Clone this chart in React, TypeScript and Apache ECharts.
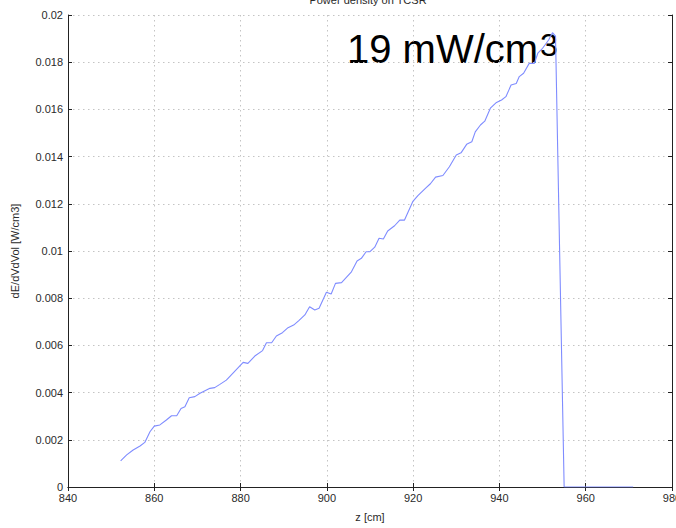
import React, { useEffect, useRef } from "react";
import * as echarts from "echarts";

const zCm: number[] = [
  852.2, 853.6, 855.1, 856.7, 857.8, 859.0, 860.0, 861.3, 862.8, 864.0,
  865.2, 866.2, 867.1, 868.1, 869.4, 870.6, 872.9, 874.0, 875.2, 876.7,
  878.3, 880.6, 881.7, 883.3, 885.1, 886.0, 887.2, 888.3, 889.7, 891.0,
  892.3, 893.5, 894.9, 896.0, 897.2, 898.2, 899.9, 901.0, 902.0, 903.4,
  905.7, 907.0, 908.0, 909.1, 910.0, 911.1, 912.1, 913.1, 914.1, 915.7,
  916.9, 918.0, 919.9, 921.1, 922.9, 924.0, 925.2, 926.9, 928.4, 930.0,
  931.1, 932.4, 933.6, 934.4, 935.6, 936.6, 937.9, 939.2, 940.5, 941.5,
  942.7, 943.9, 944.6, 945.6, 946.9, 948.1, 948.9, 950.0, 951.4, 952.3,
  953.0, 955.0, 971.0,
];

const powerDensity: number[] = [
  0.00111, 0.00136, 0.00157, 0.00174, 0.00189, 0.00234, 0.00258, 0.00263, 0.00284, 0.00302,
  0.00302, 0.00333, 0.0034, 0.00378, 0.00383, 0.00397, 0.00418, 0.00421, 0.00435, 0.00453,
  0.00484, 0.00528, 0.00524, 0.00555, 0.00578, 0.00611, 0.00611, 0.0064, 0.00654, 0.00675,
  0.00686, 0.00705, 0.00729, 0.00764, 0.0075, 0.00757, 0.00825, 0.00818, 0.00863, 0.00866,
  0.00912, 0.00958, 0.00969, 0.00997, 0.00997, 0.01016, 0.01054, 0.01051, 0.01085, 0.01107,
  0.01131, 0.01131, 0.01209, 0.01235, 0.01266, 0.01285, 0.01313, 0.0132, 0.01357, 0.01407,
  0.01416, 0.01452, 0.01463, 0.01505, 0.01534, 0.0155, 0.01605, 0.01628, 0.0164, 0.01654,
  0.01703, 0.0171, 0.01739, 0.01753, 0.01795, 0.01795, 0.01838, 0.01859, 0.01894, 0.01925,
  0.01911, 0, 0,
];

const titleText = "Power density on TCSR";
const xName = "z [cm]";
const yName = "dE/dVdVol [W/cm3]";
const annotationMain = "19 mW/cm";
const annotationSup = "3";

const FONT = "'Liberation Sans', Arial, Helvetica, sans-serif";

export default function App() {
  const ref = useRef<HTMLDivElement>(null);

  useEffect(() => {
    if (!ref.current) return;
    const chart = echarts.init(ref.current, null, { renderer: "svg" });
    const axisLine = { show: true, lineStyle: { color: "#222", width: 1 } };
    const tick = { show: true, inside: true, length: 4, lineStyle: { color: "#222" } };
    const split = { show: true, lineStyle: { color: "#c4c4c4", type: [1.5, 3.5], width: 1 } };
    const label = { fontSize: 11, color: "#2a2a2a", fontFamily: FONT };

    chart.setOption({
      animation: false,
      backgroundColor: "#ffffff",
      textStyle: { fontFamily: FONT },
      grid: {
        left: 68,
        right: 4,
        top: 15,
        bottom: 41,
        containLabel: false,
        outerBoundsMode: "none",
      },
      xAxis: [
        {
          type: "value",
          min: 840,
          max: 980,
          interval: 20,
          position: "bottom",
          axisLine,
          axisTick: tick,
          splitLine: split,
          axisLabel: { ...label, margin: 5, showMaxLabel: true, showMinLabel: true },
          name: xName,
          nameLocation: "middle",
          nameGap: 24,
          nameTextStyle: { fontSize: 11, color: "#2a2a2a", fontFamily: FONT },
        },
        {
          type: "value",
          min: 840,
          max: 980,
          interval: 20,
          position: "top",
          axisLine,
          axisTick: tick,
          splitLine: { show: false },
          axisLabel: { show: false },
        },
      ],
      yAxis: [
        {
          type: "value",
          min: 0,
          max: 0.02,
          interval: 0.002,
          position: "left",
          axisLine,
          axisTick: tick,
          splitLine: split,
          axisLabel: { ...label, margin: 5 },
          name: yName,
          nameLocation: "middle",
          nameGap: 48,
          nameTextStyle: { fontSize: 11, color: "#2a2a2a", fontFamily: FONT },
        },
        {
          type: "value",
          min: 0,
          max: 0.02,
          interval: 0.002,
          position: "right",
          axisLine,
          axisTick: tick,
          splitLine: { show: false },
          axisLabel: { show: false },
        },
      ],
      graphic: [
        {
          type: "text",
          x: 368,
          y: 5,
          style: {
            text: titleText,
            fontSize: 11,
            fill: "#2a2a2a",
            fontFamily: FONT,
            align: "center",
            verticalAlign: "bottom",
            textAlign: "center",
            textVerticalAlign: "bottom",
          },
        },
        {
          type: "text",
          x: 347,
          y: 49,
          style: {
            text: annotationMain,
            fontSize: 40,
            fill: "#000000",
            fontFamily: FONT,
            align: "left",
            verticalAlign: "middle",
            textAlign: "left",
            textVerticalAlign: "middle",
          },
        },
        {
          type: "text",
          x: 540,
          y: 45,
          style: {
            text: annotationSup,
            fontSize: 32,
            fill: "#000000",
            fontFamily: FONT,
            align: "left",
            verticalAlign: "middle",
            textAlign: "left",
            textVerticalAlign: "middle",
          },
        },
      ],
      series: [
        {
          type: "line",
          xAxisIndex: 0,
          yAxisIndex: 0,
          data: zCm.map((z, i) => [z, powerDensity[i]]),
          showSymbol: false,
          symbol: "none",
          lineStyle: { color: "#7f8cff", width: 1.1 },
          z: 1,
        },
      ],
    });
    return () => chart.dispose();
  }, []);

  return (
    <div
      ref={ref}
      style={{ position: "fixed", left: 0, top: 0, width: 676, height: 528 }}
    />
  );
}
